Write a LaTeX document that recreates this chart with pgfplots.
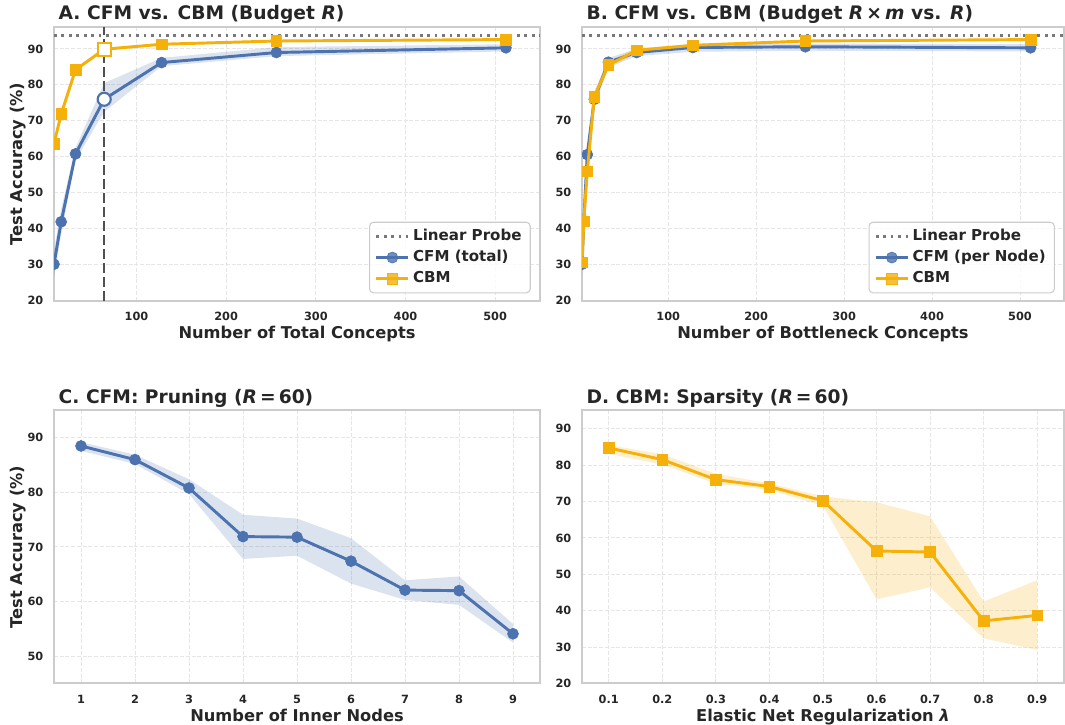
\documentclass[border=0pt]{standalone}
\usepackage{pgfplots}
\pgfplotsset{compat=1.18}
\usepackage{fontspec}
\setmainfont{DejaVu Sans}
\definecolor{cblue}{RGB}{76,114,176}
\definecolor{cyel}{RGB}{245,176,10}
\definecolor{spine}{RGB}{204,204,204}
\definecolor{gridc}{RGB}{230,230,230}
\definecolor{txt}{RGB}{38,38,38}
\definecolor{lp}{RGB}{120,120,120}
\definecolor{vline}{RGB}{80,80,80}
\newcommand{\titlefont}{\fontsize{14}{16}\selectfont\bfseries}
\newcommand{\labfont}{\fontsize{12.2}{14}\selectfont\bfseries}
\newcommand{\legfont}{\fontsize{11.3}{13}\selectfont\bfseries}
\newcommand{\tickfont}{\fontsize{8.5}{10}\selectfont\bfseries}
\pgfplotsset{
 panel/.style={
  scale only axis, anchor=south west,
  clip marker paths=true,
  axis line style={draw=spine, line width=1.5pt},
  grid=major,
  major grid style={draw=gridc, line width=0.75pt, dash pattern=on 3pt off 1.3pt},
  major tick length=0pt,
  tick label style={font=\tickfont, text=txt},
  /pgf/number format/assume math mode=true,
  yticklabel style={xshift=-4.5pt},
  xticklabel style={yshift=-5pt},
  title style={at={(axis description cs:0,1)}, anchor=base west, font=\titlefont, text=txt},
  xlabel style={at={(axis description cs:0.5,0)}, anchor=base, yshift=-28.3pt, font=\labfont, text=txt},
  ylabel style={font=\labfont, text=txt, anchor=base},
  legend style={draw=spine, line width=0.8pt, rounded corners=3pt, fill=white, fill opacity=0.8, text opacity=1,
    font=\legfont, text=txt, inner xsep=4pt, inner ysep=2.5pt, row sep=0pt,
    nodes={text height=8.5pt, text depth=2.5pt, inner sep=2.5pt},
    /tikz/every even column/.append style={column sep=6.5pt}},
  legend cell align=left,
  legend image code/.code={\draw[mark repeat=2,mark phase=2,#1] plot coordinates {(0pt,0pt) (12pt,0pt) (24pt,0pt)};},
 },
 cfm/.style={cblue, line width=2.2pt, mark=*, mark size=4.1pt, mark options={solid, line width=0.5pt}},
 cbm/.style={cyel, line width=2.2pt, mark=square*, mark size=4.0pt, mark options={solid, line width=0.5pt}},
 bandb/.style={draw=none, fill=cblue, fill opacity=0.2, forget plot},
 bandy/.style={draw=none, fill=cyel, fill opacity=0.2, forget plot},
 lprobe/.style={lp, line width=2pt, dash pattern=on 2pt off 3.6pt},
}
\begin{document}
\begin{tikzpicture}
\path[use as bounding box] (0,0) rectangle (798.75pt,-543.75pt);
% ---------------- A
\begin{axis}[panel, at={(40.5pt,-225.4pt)}, width=364.5pt, height=204.9pt,
  xmin=8, xmax=550, ymin=20, ymax=96, xtick={100,200,300,400,500}, ytick={20,30,...,90},
  title={A. CFM vs. CBM (Budget \textit{R})},
  xlabel={Number of Total Concepts}, ylabel={Test Accuracy (\%)},
  ylabel style={at={(axis description cs:-0.0658,0.5)}},
  legend style={at={(0.981,0.026)}, anchor=south east}]
\addplot[bandb] coordinates {(8,34)(16,45.5)(32,62.5)(64,80.5)(128,87.5)(256,90.5)(512,91.3)
  (512,89.3)(256,88)(128,85.2)(64,72.5)(32,59)(16,38.5)(8,26.5)} -- cycle;
\addplot[bandy] coordinates {(8,64.3)(16,72.5)(32,84.7)(64,90.3)(128,91.6)(256,92.5)(512,92.9)
  (512,92.3)(256,91.9)(128,91.0)(64,89.5)(32,83.7)(16,71.3)(8,62.9)} -- cycle;
\addplot[forget plot, vline, line width=1.8pt, dash pattern=on 7pt off 3.5pt] coordinates {(64,20)(64,96)};
\addplot[lprobe] coordinates {(8,93.8)(550,93.8)};
\addlegendentry{Linear Probe}
\addplot[cfm] coordinates {(8,30.1)(16,41.9)(32,60.8)(64,76.0)(128,86.2)(256,89.0)(512,90.3)};
\addlegendentry{CFM (total)}
\addplot[cbm] coordinates {(8,63.6)(16,71.9)(32,84.2)(64,89.9)(128,91.3)(256,92.2)(512,92.6)};
\addlegendentry{CBM}
\addplot[forget plot, only marks, mark=*, mark size=4.9pt, mark options={draw=cblue, fill=white, line width=1.6pt}] coordinates {(64,76.0)};
\addplot[forget plot, only marks, mark=square*, mark size=4.8pt, mark options={draw=cyel, fill=white, line width=1.6pt}] coordinates {(64,89.9)};
\end{axis}
% ---------------- B
\begin{axis}[panel, at={(436.5pt,-225.4pt)}, width=361.5pt, height=204.9pt,
  xmin=2, xmax=550, ymin=20, ymax=96, xtick={100,200,300,400,500}, ytick={20,30,...,90},
  title={B. CFM vs. CBM (Budget \textit{R}\,×\,\textit{m} vs. \textit{R})},
  xlabel={Number of Bottleneck Concepts},
  legend style={at={(0.981,0.026)}, anchor=south east}]
\addplot[bandb] coordinates {(2,33)(4,45)(8,62.5)(16,78)(32,87.5)(64,90)(128,91.3)(256,91.5)(512,91.3)
  (512,89.3)(256,89.5)(128,89.2)(64,88)(32,85)(16,74)(8,59)(4,38.5)(2,27)} -- cycle;
\addplot[bandy] coordinates {(2,31.5)(4,43)(8,57)(16,78.3)(32,86.7)(64,90.2)(128,91.4)(256,92.5)(512,92.9)
  (512,92.3)(256,91.9)(128,90.6)(64,89.0)(32,84.3)(16,75.2)(8,54.8)(4,41)(2,29.7)} -- cycle;
\addplot[lprobe] coordinates {(2,93.8)(550,93.8)};
\addlegendentry{Linear Probe}
\addplot[cfm] coordinates {(2,30.1)(4,41.9)(8,60.6)(16,76.0)(32,86.3)(64,89.0)(128,90.4)(256,90.6)(512,90.3)};
\addlegendentry{CFM (per Node)}
\addplot[cbm] coordinates {(2,30.6)(4,42.0)(8,55.9)(16,76.7)(32,85.5)(64,89.6)(128,91.0)(256,92.2)(512,92.6)};
\addlegendentry{CBM}
\end{axis}
% ---------------- C
\begin{axis}[panel, at={(40.5pt,-512.6pt)}, width=364.5pt, height=204.75pt,
  xmin=0.5, xmax=9.5, ymin=45, ymax=95, xtick={1,...,9}, ytick={50,60,...,90},
  title={C. CFM: Pruning (\textit{R}\,=\,60)},
  title style={yshift=-0.6pt},
  xlabel={Number of Inner Nodes}, ylabel={Test Accuracy (\%)},
  ylabel style={at={(axis description cs:-0.0658,0.5)}}]
\addplot[bandb] coordinates {(1,89.2)(2,86.9)(3,82.4)(4,75.9)(5,75.2)(6,71.6)(7,63.9)(8,64.6)(9,55.9)
  (9,52.5)(8,59.4)(7,60.3)(6,63.3)(5,68.4)(4,67.8)(3,79.7)(2,85.2)(1,87.6)} -- cycle;
\addplot[cfm] coordinates {(1,88.5)(2,86.0)(3,80.8)(4,71.9)(5,71.8)(6,67.4)(7,62.1)(8,62.0)(9,54.1)};
\end{axis}
% ---------------- D
\begin{axis}[panel, at={(436.5pt,-512.6pt)}, width=361.5pt, height=204.75pt,
  xmin=0.05, xmax=0.95, ymin=20, ymax=95, xtick={0.1,0.2,...,0.9}, ytick={20,30,...,90},
  xticklabel style={/pgf/number format/.cd, fixed, fixed zerofill, precision=1},
  title={D. CBM: Sparsity (\textit{R}\,=\,60)},
  title style={yshift=-0.6pt},
  xlabel={Elastic Net Regularization \textit{λ}}]
\addplot[bandy] coordinates {(0.1,85.5)(0.2,83.0)(0.3,77.6)(0.4,75.0)(0.5,71.4)(0.6,69.8)(0.7,65.9)(0.8,42.5)(0.9,48.4)
  (0.9,29.2)(0.8,32.4)(0.7,46.4)(0.6,43.1)(0.5,68.8)(0.4,73.2)(0.3,74.9)(0.2,80.1)(0.1,83.1)} -- cycle;
\addplot[cbm] coordinates {(0.1,84.7)(0.2,81.5)(0.3,76.0)(0.4,74.1)(0.5,70.2)(0.6,56.4)(0.7,56.1)(0.8,37.2)(0.9,38.7)};
\end{axis}
\end{tikzpicture}
\end{document}
